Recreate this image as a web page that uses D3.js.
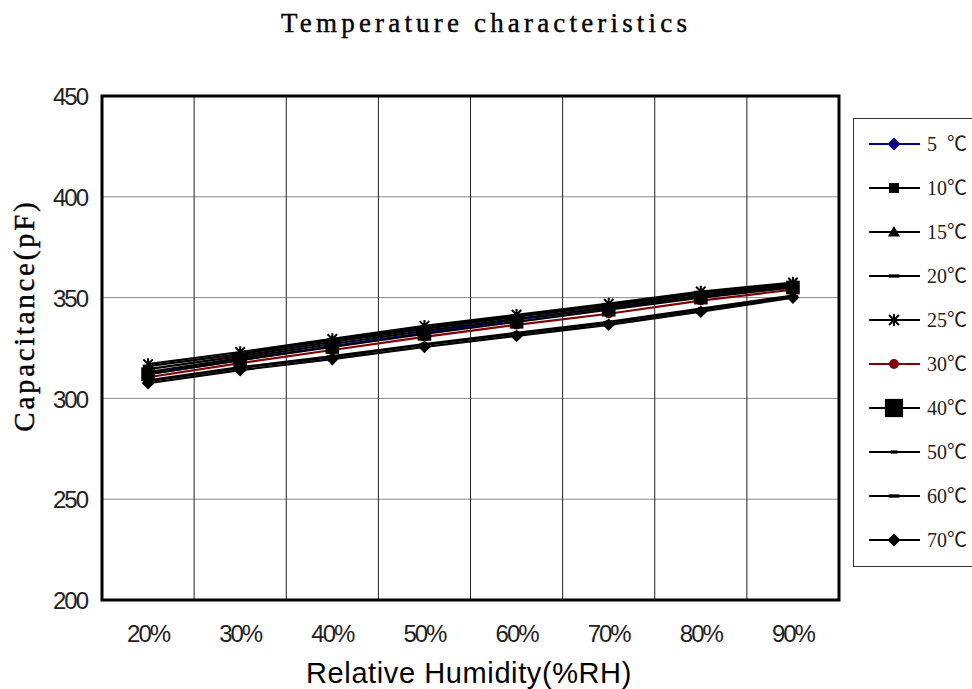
<!DOCTYPE html>
<html><head><meta charset="utf-8">
<script src="https://cdn.jsdelivr.net/npm/d3@7"></script>
<style>body{margin:0;background:#fff}svg{display:block}</style>
</head><body>
<svg id="c" width="972" height="689"></svg>
<script>
const categories = ["20%","30%","40%","50%","60%","70%","80%","90%"];
const seriesNames = ["5  \u2103","10\u2103","15\u2103","20\u2103","25\u2103","30\u2103","40\u2103","50\u2103","60\u2103","70\u2103"];
const s5  = [312, 319, 326, 332.5, 339, 345, 350.5, 355.5];
const s10 = [313, 320, 327, 333.5, 339.5, 345, 351, 356];
const s15 = [314.5, 321, 328, 334.5, 340.5, 346, 352, 356.5];
const s20 = [316, 322, 329, 335, 341, 346.5, 352.5, 357];
const s25 = [317, 323, 329.5, 336, 341.5, 347, 353, 357.5];
const s30 = [310.5, 317.5, 324, 330.5, 336.5, 342, 348.5, 354];
const s40 = [312, 319, 325.5, 332, 338, 344, 350, 355];
const s50 = [309, 315.5, 321, 327, 332.5, 338, 344.5, 351];
const s60 = [308.5, 315, 320.5, 326.5, 332, 337.5, 344, 350.5];
const s70 = [307.5, 314, 319.5, 325.5, 331, 336.5, 343, 350];
const yTicks = [200, 250, 300, 350, 400, 450];

const seriesValues = [s5,s10,s15,s20,s25,s30,s40,s50,s60,s70];
const colors = ["#000080","#000","#000","#000","#000","#800000","#000","#000","#000","#000"];
const markers = ["diamond","square","triangle","dash","star","circle","bigsquare","smalldash","dash","diamond"];

const svg = d3.select("#c");
const L=102, R=839, T=96, B=600;
const x = d3.scaleBand().domain(categories).range([L,R]);
const y = d3.scaleLinear().domain([200,450]).range([B,T]);

// gridlines
svg.append("g").selectAll("line").data(yTicks.slice(1,-1)).join("line")
  .attr("x1",L).attr("x2",R).attr("y1",d=>y(d)).attr("y2",d=>y(d))
  .attr("stroke","#8a8a8a").attr("stroke-width",1);
svg.append("g").selectAll("line").data(categories.slice(1)).join("line")
  .attr("x1",d=>x(d)).attr("x2",d=>x(d)).attr("y1",T).attr("y2",B)
  .attr("stroke","#222").attr("stroke-width",1);

// axes labels
const sansFont = "Liberation Sans, Arial, sans-serif";
const yAxis = d3.axisLeft(y).tickValues(yTicks).tickSize(0).tickPadding(15);
const ga = svg.append("g").attr("transform",`translate(${L},0)`).call(yAxis);
ga.select(".domain").remove();
ga.selectAll("text").attr("font-family",sansFont).attr("font-size",24).attr("fill","#222").attr("dy","0.36em").attr("letter-spacing",-2);
const xAxis = d3.axisBottom(x).tickSize(0).tickPadding(25);
const gx = svg.append("g").attr("transform",`translate(0,${B})`).call(xAxis);
gx.select(".domain").remove();
gx.selectAll("text").attr("font-family",sansFont).attr("font-size",24).attr("fill","#222").attr("letter-spacing",-2);

function markerPath(type, k){
  const s = v => v*k;
  switch(type){
    case "diamond": return `M0,${s(-6)}L${s(6)},0L0,${s(6)}L${s(-6)},0Z`;
    case "square": return `M${s(-4.5)},${s(-4.5)}H${s(4.5)}V${s(4.5)}H${s(-4.5)}Z`;
    case "bigsquare": return `M${s(-6.5)},${s(-6.5)}H${s(6.5)}V${s(6.5)}H${s(-6.5)}Z`;
    case "triangle": return `M0,${s(-5.5)}L${s(5.5)},${s(4)}H${s(-5.5)}Z`;
    case "dash": return `M${s(-5)},${s(-1.5)}H${s(5)}V${s(1.5)}H${s(-5)}Z`;
    case "smalldash": return `M${s(-3)},${s(-1.5)}H${s(3)}V${s(1.5)}H${s(-3)}Z`;
    case "circle": return d3.symbol(d3.symbolCircle, Math.PI*20*k*k)();
    case "star": return `M${s(-4.5)},${s(-4.5)}L${s(4.5)},${s(4.5)}M${s(-4.5)},${s(4.5)}L${s(4.5)},${s(-4.5)}M0,${s(-5.5)}V${s(5.5)}`;
  }
}
function drawMarker(g, type, color, k){
  if(type==="star"){
    g.append("path").attr("d",markerPath(type,k))
      .attr("stroke",color).attr("stroke-width",2).attr("fill","none");
  } else {
    g.append("path").attr("d",markerPath(type,k)).attr("fill",color).attr("stroke","none");
  }
}

const line = d3.line().x((d,i)=>x(categories[i])+x.bandwidth()/2).y(d=>y(d));
const plot = svg.append("g");
seriesValues.forEach((vals,si)=>{
  plot.append("path").datum(vals).attr("d",line).attr("fill","none")
    .attr("stroke",colors[si]).attr("stroke-width",2.2);
});
seriesValues.forEach((vals,si)=>{
  vals.forEach((v,i)=>{
    const g = plot.append("g").attr("transform",`translate(${x(categories[i])+x.bandwidth()/2},${y(v)})`);
    drawMarker(g, markers[si], colors[si], 1.05);
  });
});

// frame
svg.append("rect").attr("x",L).attr("y",T).attr("width",R-L).attr("height",B-T)
  .attr("fill","none").attr("stroke","#000").attr("stroke-width",3);

// spaced serif text stretched to a target width via letter-spacing
function spacedText(parent, str, cx, targetWidth, size){
  const t = parent.append("text").attr("font-family","Liberation Serif, DejaVu Serif, serif")
    .attr("font-size",size).attr("x",cx).attr("text-anchor","middle").text(str);
  const w = t.node().getComputedTextLength();
  const ls = (targetWidth - w) / str.length;
  t.attr("letter-spacing", ls).attr("x", cx + ls/2);
  return t;
}
spacedText(svg, "Temperature characteristics", 484, 410, 27)
  .attr("y",32).attr("fill","#000")
  .attr("stroke","#000").attr("stroke-width",0.4);
const yt = svg.append("g").attr("transform","translate(34,317) rotate(-90)");
spacedText(yt, "Capacitance(pF)", 0, 232, 29)
  .attr("y",0).attr("fill","#000")
  .attr("stroke","#000").attr("stroke-width",0.4);

svg.append("text").attr("x",469).attr("y",683).attr("text-anchor","middle")
  .attr("font-family",sansFont).attr("font-size",29).attr("letter-spacing",0.6)
  .attr("fill","#000").text("Relative Humidity(%RH)");

// legend
const lg = svg.append("g");
lg.append("rect").attr("x",853.5).attr("y",118.5).attr("width",130).attr("height",448)
  .attr("fill","#fff").attr("stroke","#333").attr("stroke-width",1);
seriesNames.forEach((n,si)=>{
  const yy = 144 + si*44;
  lg.append("line").attr("x1",869).attr("x2",920).attr("y1",yy).attr("y2",yy)
    .attr("stroke",colors[si]).attr("stroke-width",2);
  const g = lg.append("g").attr("transform",`translate(894,${yy})`);
  drawMarker(g, markers[si], colors[si], markers[si]==="bigsquare" ? 1.4 : 1.1);
  lg.append("text").attr("x",927).attr("y",yy+7).attr("font-family","Liberation Serif, Noto Sans CJK SC, serif")
    .attr("font-size",20).attr("fill","#222").style("white-space","pre").text(n);
});
</script>
</body></html>
